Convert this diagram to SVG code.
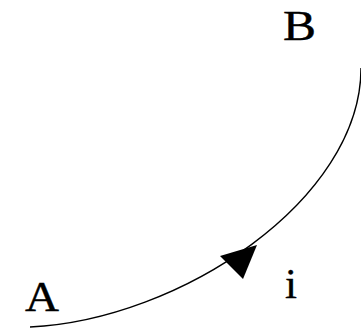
<svg xmlns="http://www.w3.org/2000/svg" width="361" height="329" viewBox="0 0 361 329">
<style>
.lbl{font-family:"Liberation Serif","Times New Roman",serif;font-size:43px;fill:#000;stroke:#000;stroke-width:0.4}
.edge{fill:none;stroke:#000;stroke-width:1.4}
</style>
<rect width="361" height="329" fill="#fff"/>
<g id="connectors">
<path class="edge" d="M30,327 C180,320 361,200 361,68"/>
<polygon points="257,245 220,256 243,279" fill="#000"/>
</g>
<g id="node-A"><text class="lbl" x="25" y="311" textLength="34" lengthAdjust="spacingAndGlyphs">A</text></g>
<g id="node-B"><text class="lbl" x="283" y="40" textLength="33" lengthAdjust="spacingAndGlyphs">B</text></g>
<g id="label-i"><text class="lbl" x="285" y="298">i</text></g>
</svg>
